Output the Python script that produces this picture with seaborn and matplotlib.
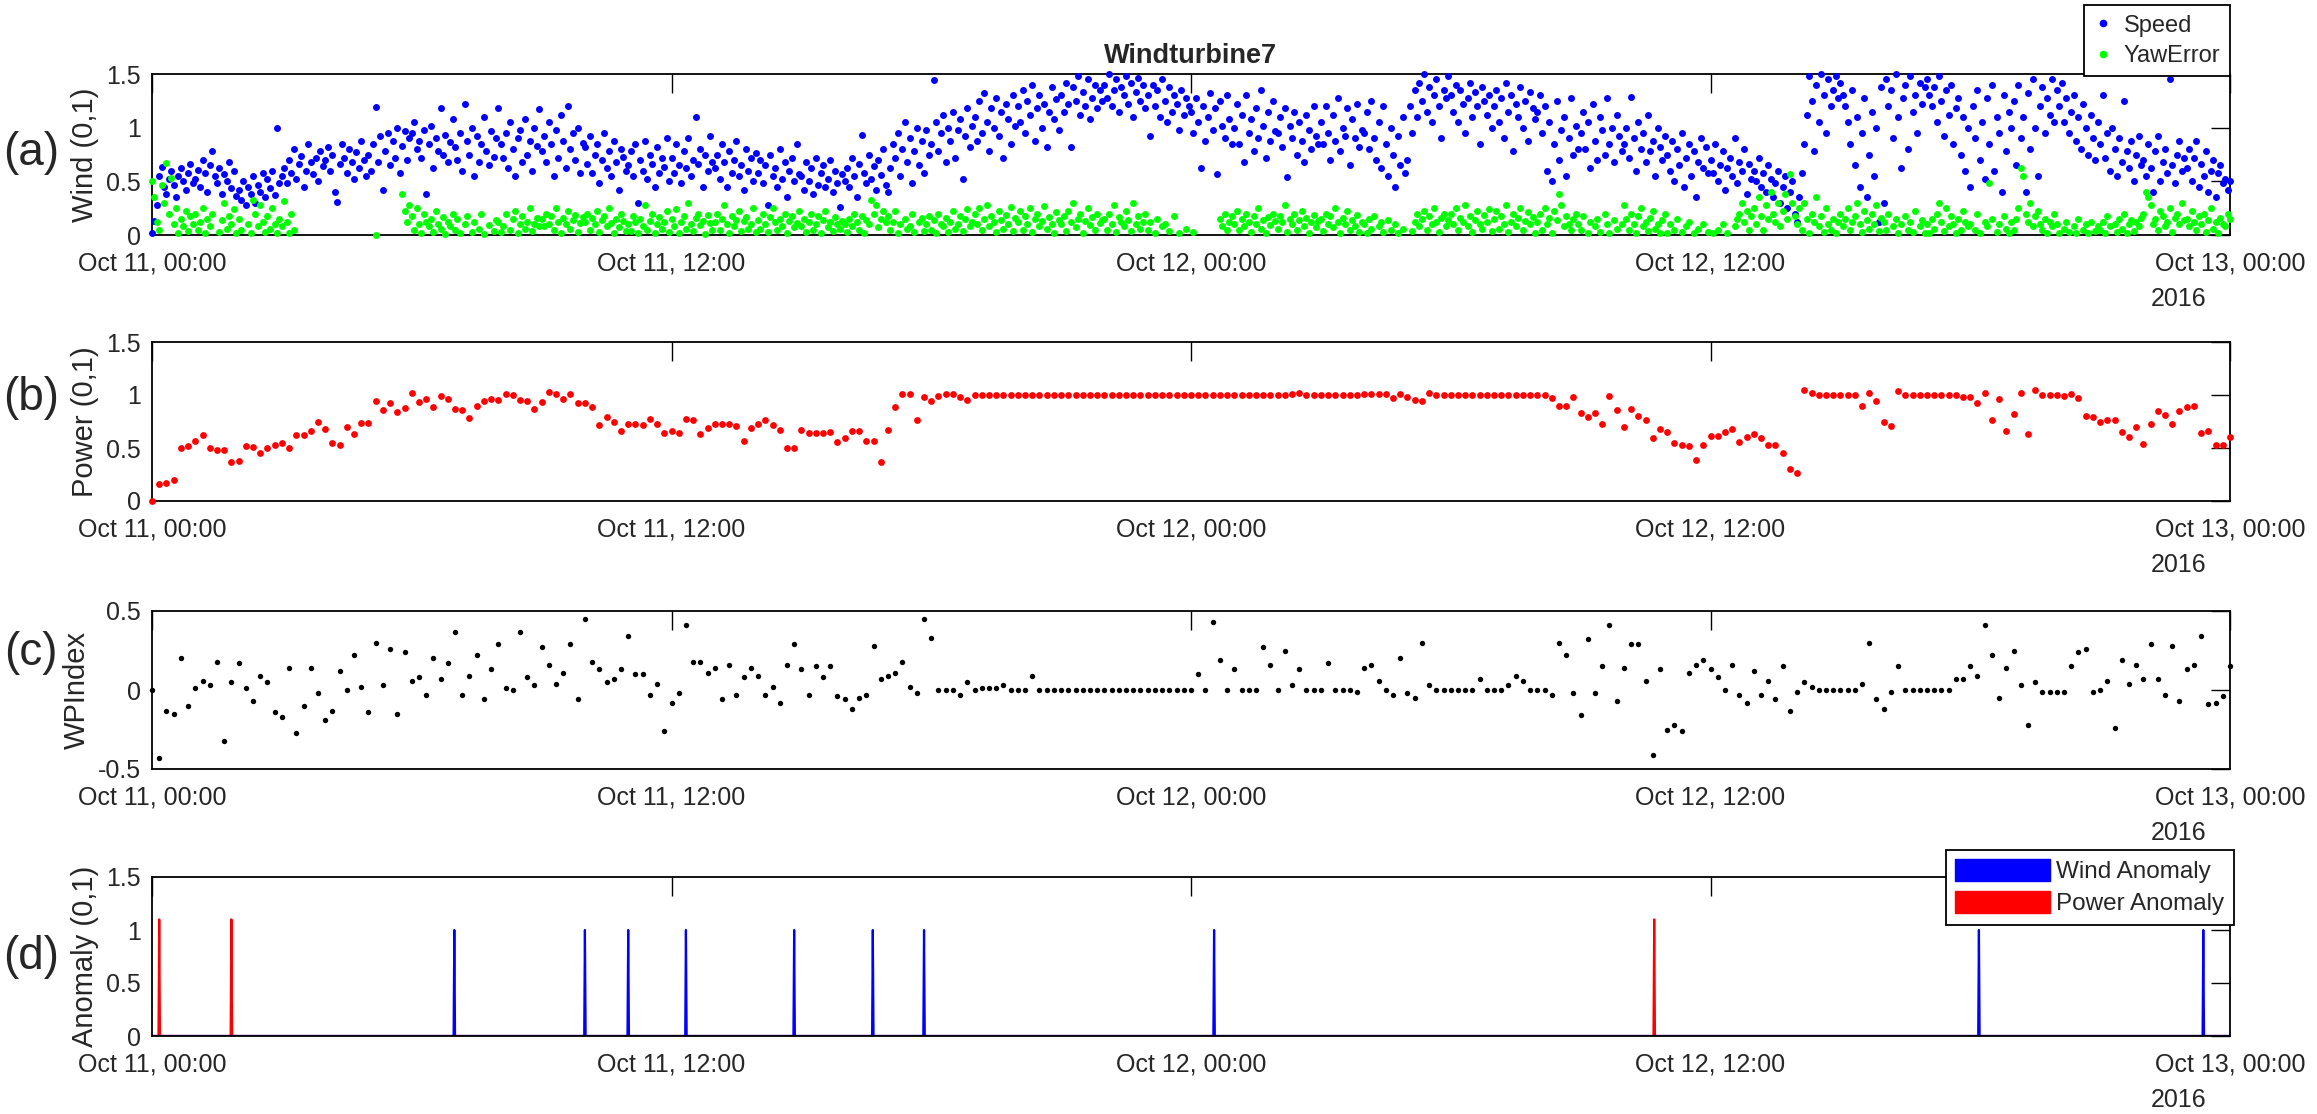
import numpy as np
import pandas as pd
import matplotlib
matplotlib.use("Agg")
import matplotlib.pyplot as plt
from matplotlib.patches import Patch
from matplotlib.lines import Line2D
import seaborn as sns

# wind speed (0,1), 18 readings per hour, one row per hour from Oct 11 00:00
speed = [
    .02, .13, .28, .55, .63, .45, .38, .52, .60, .47, .35, .55, .62, .50, .42, .58, .66, .48,
    .52, .61, .45, .70, .58, .40, .65, .78, .55, .48, .62, .38, .57, .50, .68, .44, .60, .36,
    .42, .33, .50, .28, .45, .38, .55, .30, .47, .40, .58, .35, .52, .44, .60, .37, 1.0, .48,
    .55, .62, .48, .70, .58, .80, .52, .66, .74, .45, .60, .85, .68, .57, .72, .50, .78, .64,
    .70, .82, .60, .75, .40, .31, .66, .85, .72, .58, .80, .68, .52, .77, .62, .88, .70, .55,
    .75, .60, .85, 1.19, .68, .92, .42, .78, .95, .65, .88, .72, 1.0, .58, .83, .97, .70, .90,
    .95, 1.05, .80, .88, .72, .98, .38, .85, 1.02, .62, .90, .78, 1.18, .75, .93, .68, .87, 1.08,
    .82, .70, .95, .60, 1.22, .88, .75, 1.0, .55, .92, .68, .85, 1.1, .78, .65, .97, .73, .90,
    1.18, .85, .72, .95, .62, 1.05, .80, .55, .90, .98, .68, 1.08, .75, .88, .60, 1.0, .83, 1.17,
    .78, .92, .68, 1.05, .85, .55, .98, .72, 1.12, .88, .62, 1.2, .80, .95, .70, 1.0, .58, .86,
    .82, .66, .92, .58, .75, .85, .48, .70, .95, .62, .78, .55, .88, .68, .42, .80, .73, .60,
    .65, .78, .55, .85, .30, .70, .60, .88, .52, .75, .66, .45, .82, .58, .72, .63, .90, .50,
    .72, .58, .85, .65, .48, .78, .62, .90, .55, .70, 1.1, .66, .80, .45, .75, .60, .92, .68,
    .62, .75, .52, .85, .68, .45, .78, .58, .70, .88, .55, .65, .42, .80, .60, .72, .50, .76,
    .58, .70, .48, .65, .28, .75, .55, .62, .45, .80, .52, .68, .35, .60, .72, .50, .85, .57,
    .55, .42, .68, .50, .62, .38, .72, .47, .58, .65, .45, .52, .70, .40, .60, .48, .26, .57,
    .50, .62, .45, .72, .55, .35, .66, .93, .58, .48, .75, .52, .64, .42, .70, .56, .80, .47,
    .40, .62, .85, .72, .95, .55, .80, 1.05, .68, .90, .48, .78, 1.0, .65, .88, .58, .98, .75,
    .85, 1.44, 1.05, .78, .95, 1.12, .68, 1.0, .88, 1.15, .72, .98, 1.08, .52, .92, 1.18, .82, 1.02,
    1.1, .88, 1.25, .95, 1.32, 1.05, .78, 1.18, 1.0, 1.28, .92, 1.15, .72, 1.22, 1.08, .85, 1.3, 1.02,
    1.2, 1.05, 1.35, .95, 1.25, 1.12, 1.4, .88, 1.18, 1.3, 1.0, 1.22, .82, 1.15, 1.38, 1.08, 1.27, .98,
    1.3, 1.15, 1.42, 1.22, .82, 1.38, 1.25, 1.48, 1.12, 1.33, 1.2, 1.45, 1.08, 1.28, 1.4, 1.18, 1.35, 1.25,
    1.4, 1.28, 1.5, 1.2, 1.35, 1.45, 1.15, 1.38, 1.3, 1.48, 1.22, 1.42, 1.1, 1.33, 1.46, 1.25, 1.4, 1.18,
    1.3, .92, 1.4, 1.2, 1.35, 1.1, 1.45, 1.25, 1.05, 1.38, 1.15, 1.3, 1.22, .98, 1.35, 1.12, 1.28, 1.2,
    1.15, .95, 1.28, 1.05, .62, 1.2, .88, 1.1, 1.32, .98, 1.18, .57, 1.25, 1.02, .9, 1.3, 1.08, .85,
    1.0, 1.22, .85, 1.12, .68, 1.3, .95, 1.08, .78, 1.18, .9, 1.35, 1.02, .72, 1.15, .88, 1.25, .97,
    .95, 1.1, .82, 1.18, .54, 1.02, .9, 1.15, .75, 1.05, .88, .68, 1.12, .98, .8, 1.2, .92, .85,
    1.05, .85, 1.2, .95, .7, 1.12, .88, 1.28, .78, 1.0, .92, 1.18, .65, 1.08, .9, 1.22, .82, .98,
    .95, 1.15, .8, 1.25, .9, .7, 1.05, .62, 1.2, .85, .55, 1.0, .75, .45, .92, .65, 1.1, .58,
    .7, 1.2, .95, 1.35, 1.1, 1.42, 1.25, 1.5, 1.15, 1.38, 1.05, 1.3, 1.45, 1.2, .9, 1.35, 1.28, 1.48,
    1.3, 1.15, 1.4, 1.05, 1.35, 1.22, .95, 1.28, 1.42, 1.1, 1.33, 1.2, .85, 1.38, 1.25, 1.12, 1.3, 1.0,
    1.2, 1.35, 1.05, 1.28, .9, 1.42, 1.15, 1.3, .78, 1.22, 1.1, 1.38, 1.0, 1.25, .88, 1.33, 1.18, 1.08,
    1.15, 1.3, .95, 1.2, .6, 1.05, .5, .85, 1.25, .7, .98, 1.1, .55, .9, 1.28, .75, 1.02, .8,
    .95, 1.15, .8, 1.05, .62, 1.22, .88, .7, 1.1, .98, .75, 1.28, .85, 1.0, .68, 1.12, .92, .78,
    .85, 1.0, .72, 1.29, .9, .6, 1.05, .8, .95, .68, 1.12, .78, .88, .55, 1.0, .82, .7, .92,
    .75, .6, .88, .5, .8, .65, .95, .45, .72, .85, .55, .78, .35, .68, .9, .62, .82, .58,
    .7, .58, .85, .5, .65, .78, .42, .62, .72, .55, .9, .48, .68, .6, .8, .38, .66, .52,
    .6, .5, .72, .45, .58, .4, .65, .52, .35, .48, .6, .3, .45, .55, .25, .4, .5, .2,
    .12, .35, .58, .85, 1.12, 1.48, 1.25, .78, 1.4, 1.05, 1.5, 1.3, .95, 1.45, 1.2, 1.35, 1.48, 1.28,
    1.42, 1.3, 1.2, 1.05, .85, 1.35, .65, 1.1, .45, .95, 1.28, .35, .75, 1.15, .55, 1.0, .12, 1.38,
    .3, 1.45, 1.2, 1.35, .9, 1.5, 1.1, .62, 1.28, 1.4, .8, 1.48, 1.15, 1.3, .95, 1.42, 1.22, 1.38,
    1.45, 1.3, 1.2, 1.38, 1.05, 1.48, 1.25, .92, 1.35, 1.12, 1.4, .85, 1.18, 1.28, .75, 1.1, .6, 1.0,
    .45, 1.2, .9, 1.35, .7, 1.05, .52, 1.28, .85, 1.4, .6, 1.1, .95, .4, 1.3, .78, 1.15, 1.0,
    1.25, .65, 1.4, .9, 1.1, .4, 1.32, .8, 1.45, 1.0, .55, 1.2, 1.38, .95, 1.28, 1.12, 1.45, 1.05,
    1.35, 1.2, 1.42, 1.05, 1.28, .95, 1.15, 1.3, .88, 1.1, .8, 1.22, 1.0, .75, 1.12, .9, .7, 1.05,
    .85, 1.3, .72, .95, .6, 1.0, .8, .55, .9, .68, 1.25, .78, .62, .88, .5, .75, .92, .65,
    .7, .55, .85, .62, .4, .78, .92, .5, .68, .8, .58, 1.45, .65, .48, .75, .88, .6, .72,
    .62, .8, .5, .72, .88, .45, .66, .55, .78, .4, .6, .7, .35, .58, .65, .48, .52, .42,
    .5,
]

# yaw error (0,1), same time grid as speed, None = no reading
yaw = [
    .5, .35, .12, .05, .47, .3, .67, .2, .53, .1, .25, .02, .15, .08, .22, .04, .18, .1,
    .2, .05, .12, .25, .02, .15, .08, .2, None, None, .03, .14, .3, .06, .18, .1, .24, .02,
    .15, .05, None, None, .1, .02, .33, .2, .08, .28, .12, .03, .18, .06, .25, .1, .02, .15,
    .08, .32, .12, .02, .2, .05, None, None, None, None, None, None, None, None, None, None, None, None,
    None, None, None, None, None, None, None, None, None, None, None, None, None, None, None, None, None, None,
    None, None, None, .0, None, None, None, None, None, None, None, None, None, None, .38, .22, .12, .28,
    .18, .05, .25, .1, .02, .2, .12, .08, .15, .03, .22, .1, .06, .17, .01, .12, .08, .2,
    .05, .15, .02, None, .1, .18, None, .03, .12, None, .06, .2, .01, None, .09, None, .04, .14,
    .12, .03, .08, .2, None, .05, .15, .22, .02, .1, .18, .06, .12, .25, .04, .1, .16, .08,
    .15, .08, .2, .1, .18, .05, .25, .12, .02, .16, .1, .22, .06, .14, .19, .03, .11, .17,
    .12, .2, .05, .16, .1, .22, .03, .14, .18, .08, .25, .11, .02, .15, .07, .2, .13, .04,
    .1, .04, .18, .12, .02, .15, .08, .28, .05, .13, .2, .02, .1, .17, .06, .12, .22, .03,
    .15, .08, .24, .02, .12, .18, .06, .3, .1, .04, .16, .2, .09, .13, .01, .19, .11, .05,
    .12, .2, .05, .15, .28, .1, .02, .18, .08, .14, .22, .04, .13, .17, .06, .1, .25, .03,
    .14, .06, .2, .1, .03, .17, .25, .12, .05, .15, .08, .2, .02, .13, .18, .07, .11, .22,
    .08, .15, .03, .12, .2, .05, .1, .18, .02, .14, .22, .07, .12, .04, .17, .1, .06, .13,
    .1, .03, .15, .08, .2, .12, .05, .18, .02, .14, .1, .33, .2, .28, .07, .15, .22, .12,
    .18, .05, .12, .22, .02, .1, None, .15, .06, .08, .2, .03, None, .12, .16, .04, .1, .18,
    .05, .14, .02, .2, .1, .08, .16, .03, .12, .22, .06, .1, .18, .04, .15, .24, .08, .12,
    .2, .1, .25, .05, .15, .28, .08, .18, .12, .03, .22, .14, .06, .19, .1, .26, .04, .16,
    .12, .22, .05, .18, .1, .25, .03, .15, .2, .08, .13, .27, .06, .17, .1, .02, .21, .14,
    .1, .18, .04, .22, .12, .3, .07, .15, .2, .02, .13, .25, .09, .17, .05, .2, .11, .14,
    .15, .05, .2, .1, .28, .03, .17, .12, .08, .22, .14, .04, .3, .1, .18, .06, .12, .2,
    .05, .12, None, .02, .15, None, .08, .1, None, .04, None, .18, None, .02, None, None, .06, None,
    None, .03, None, None, None, None, None, None, None, None, None, None, .15, .08, .2, .05, .12, .18,
    .1, .22, .05, .15, .08, .2, .12, .03, .18, .1, .25, .06, .14, .02, .17, .09, .2, .13,
    .06, .18, .12, .28, .03, .15, .1, .2, .05, .14, .22, .08, .16, .02, .12, .19, .07, .13,
    .15, .04, .2, .1, .18, .07, .25, .12, .02, .16, .1, .22, .05, .14, .08, .19, .03, .12,
    .1, .02, .15, .06, .18, None, .08, .12, .03, None, .14, .05, None, .1, .02, None, .06, None,
    None, None, .04, .12, .2, .08, .15, .22, .05, .18, .1, .25, .12, .03, .16, .2, .08, .14,
    .2, .1, .25, .05, .16, .12, .28, .08, .18, .03, .14, .22, .1, .06, .19, .12, .24, .04,
    .15, .22, .06, .18, .1, .28, .03, .12, .2, .08, .16, .25, .05, .13, .21, .1, .17, .02,
    .12, .2, .05, .25, .1, .16, .02, .22, .14, .38, .28, .08, .18, .1, .05, .15, .2, .1,
    .05, .18, None, .02, .12, None, .08, .15, .03, None, .2, .1, .02, None, .14, .06, None, .1,
    .28, .15, .05, .2, .1, .02, .18, .25, .08, .12, .04, .16, .22, .06, .1, .02, .14, .2,
    .02, .1, None, .05, .15, None, .03, None, .08, .12, None, .02, None, .06, None, .1, None, .03,
    None, .02, None, .05, None, .1, None, .02, None, None, .08, .15, .2, .3, .12, .22, .05, .18,
    .25, .1, .35, .18, .05, .28, .15, .4, .2, .12, .3, .08, .22, .38, .15, .57, .3, .18,
    .1, .25, .05, .3, .15, .02, .2, .12, .35, .08, .18, .03, .25, .1, .05, .15, .02, .12,
    .2, .08, .15, .25, .05, .12, .18, .3, .1, .03, .22, .14, .06, .2, .1, .28, .04, .16,
    .12, .05, .2, None, .08, .15, .02, .1, None, .18, .05, .12, .03, .22, None, .08, .14, .02,
    .1, .02, .15, .06, .2, .3, .12, .04, .25, .08, .18, .1, .02, .15, .05, .22, .12, .08,
    .1, None, .05, .2, .02, None, .12, .08, .48, .15, None, .03, .1, None, .18, .06, .02, .12,
    .05, .15, .25, .62, .55, .2, .12, .3, .08, .18, .22, .1, .05, .15, .02, .12, .08, .2,
    .1, .02, None, .06, .12, .03, None, .08, .02, .15, None, .05, .1, .02, .12, None, .04, .08,
    .05, .12, .02, .18, .08, None, .1, .03, .15, .06, .2, .02, .1, .14, .04, .12, .08, .16,
    .2, .4, .35, .28, .1, .15, .05, .22, .18, .08, .12, .25, .03, .16, .2, .1, .3, .14,
    .15, .08, .22, .12, .05, .18, .1, .2, .03, .14, .25, .06, .12, .02, .16, .1, .08, .2,
    .15,
]

# power (0,1), one reading every 10 minutes
power = [
    0, .16, .17, .20, .50, .52, .57, .62, .50, .48,
    .48, .37, .38, .52, .51, .45, .50, .53, .55, .50,
    .62, .62, .66, .75, .68, .55, .53, .70, .63, .74,
    .74, .94, .86, .92, .84, .88, 1.02, .93, .96, .89,
    .99, .96, .87, .86, .78, .90, .94, .96, .95, 1.01,
    1.00, .95, .94, .87, .93, 1.03, 1.01, .96, 1.01, .92,
    .92, .89, .72, .79, .75, .66, .73, .73, .72, .77,
    .73, .64, .66, .64, .77, .76, .63, .69, .73, .73,
    .73, .71, .57, .69, .73, .76, .72, .67, .50, .50,
    .67, .64, .64, .64, .65, .56, .59, .66, .66, .57,
    .57, .37, .67, .89, 1.01, 1.01, .76, .98, .94, .99,
    1.01, 1.01, .98, .95, 1.00,
    1, 1, 1, 1, 1, 1, 1, 1, 1, 1,
    1, 1, 1, 1, 1, 1, 1, 1, 1, 1,
    1, 1, 1, 1, 1, 1, 1, 1, 1, 1,
    1, 1, 1, 1, 1, 1, 1, 1, 1, 1,
    1, 1, 1, 1.01, 1.02, 1, 1, 1, 1, 1,
    1, 1, 1, 1.01, 1.01, 1.01, 1.01, .97, 1.01, .98,
    .95, .94, 1.02, 1, 1, 1, 1, 1, 1, 1,
    1, 1, 1, 1, 1, 1, 1, 1, 1, .97,
    .90, .90, .98, .83, .79, .83, .73, .99, .86, .70,
    .87, .80, .76, .59, .68, .65, .55, .53, .52, .39,
    .53, .61, .61, .65, .68, .56, .60, .63, .59, .53,
    .53, .45, .30, .26, 1.05, 1.02, 1.0, 1.0, 1.0, 1.0,
    1.0, 1.0, .90, 1.02, .94, .75, .71, 1.04, 1.0, 1.0,
    1.0, 1.0, 1.0, 1.0, 1.0, 1.0, .98, .98, .92, 1.02,
    .76, .96, .66, .82, 1.02, .63, 1.05, 1.0, 1.0, 1.0,
    .99, 1.01, .97, .80, .79, .75, .76, .76, .65, .60,
    .70, .54, .73, .85, .81, .73, .85, .89, .90, .64,
    .66, .53, .53, .60,
]

# wind-power index, one value every 10 minutes
wpindex = [
    0, -.43, -.13, -.15, .20, -.10, .01, .06, .03, .18,
    -.32, .05, .17, .01, -.07, .09, .05, -.14, -.17, .14,
    -.27, -.10, .14, -.02, -.19, -.13, .12, 0, .22, .02,
    -.14, .30, .03, .26, -.15, .24, .06, .08, -.03, .20,
    .07, .17, .37, -.03, .09, .22, -.06, .13, .29, .01,
    0, .37, .08, .03, .27, .16, .04, .11, .29, -.06,
    .45, .18, .13, .05, .07, .13, .34, .10, .10, -.03,
    .04, -.26, -.08, -.02, .41, .18, .18, .11, .14, -.06,
    .16, -.03, .08, .14, .09, -.03, .02, -.08,
    .16, .29, .13, -.03, .15, .08, .15, -.04, -.06, -.12,
    -.05, -.03, .28, .07, .09, .11, .18, .02, -.02, .45,
    .33, 0, 0, 0, -.03, .05, 0, .01, .01, .01,
    .03, 0, 0, 0, .09, 0, 0, 0, 0, 0,
    0, 0, 0, 0, 0, 0, 0, 0, 0, 0,
    0, 0, 0, 0, 0, 0, 0, .10, 0, .43,
    .19, 0, .13, 0, 0, 0, .27, .16, 0, .25,
    .03, .13, 0, 0, 0, .17, 0, 0, 0, -.01,
    .14, .16, .06, 0, -.03, .20, -.02, -.05, .30, .03,
    0, 0, 0, 0, 0, 0, .07, 0, 0, 0,
    .03, .09, .06, 0, 0, 0, -.03, .30, .22, -.02,
    -.16,
    .32, -.02, .15, .41, -.07, .14, .29, .29, .06, -.41,
    .13, -.25, -.22, -.26, .11, .16, .19, .13, .08, 0,
    .16, -.03, -.08, .12, -.03, .06, -.06, .15, -.13, -.01,
    .05, .02, 0, 0, 0, 0, 0, 0, .04, .30,
    -.06, -.12, -.01, .15, 0, 0, 0, 0, 0, 0,
    0, .07, .07, .15, .09, .41, .22, -.05, .14, .25,
    .03, -.22, .05, -.01, -.01, -.01, -.01, .15, .24, .26,
    -.01, 0, .06, -.24, .19, .04, .16, .07, .29, .07,
    -.03, .28, -.07, .13, .16, .34, -.09, -.08, -.04, .15,
]

# anomaly flags, minutes after Oct 11 00:00
wind_anomaly_min = [419, 600, 660, 740, 890, 999, 1070, 1472, 2532, 2843]
power_anomaly_min = [10, 110, 2082]
wind_anomaly_level = 1.0
power_anomaly_level = 1.1

tick_hours = [0, 12, 24, 36, 48]
tick_labels = ["Oct 11, 00:00", "Oct 11, 12:00", "Oct 12, 00:00", "Oct 12, 12:00", "Oct 13, 00:00"]

sns.set_style("white")
plt.rcParams['font.family'] = ['Liberation Sans', 'DejaVu Sans']

wind = pd.DataFrame({'hour': np.linspace(0, 48, len(speed)),
                     'Speed': speed,
                     'YawError': np.array(yaw, dtype=float)})
pw = pd.DataFrame({'hour': np.linspace(0, 48, len(power)), 'power': power, 'wpi': wpindex})

minutes = np.arange(48 * 60 + 1)
wind_flag = np.zeros(len(minutes))
wind_flag[wind_anomaly_min] = wind_anomaly_level
power_flag = np.zeros(len(minutes))
power_flag[power_anomaly_min] = power_anomaly_level

fig = plt.figure(figsize=(23.17, 11.14), dpi=100)
W, H = 2317, 1114
left, width = 152 / W, 2078 / W
rows = [(74, 235), (342, 501), (611, 769), (877, 1036)]
axes = [fig.add_axes([left, 1 - b / H, width, (b - t) / H]) for t, b in rows]
ax1, ax2, ax3, ax4 = axes

# (a) wind speed and yaw error
sns.scatterplot(data=wind, x='hour', y='Speed', color='#0000ff', s=25, linewidth=0,
                ax=ax1, clip_on=False, zorder=3)
sns.scatterplot(data=wind, x='hour', y='YawError', color='#00ff00', s=25, linewidth=0,
                ax=ax1, clip_on=False, zorder=4)
ax1.set_ylim(0, 1.5)
ax1.set_ylabel('Wind (0,1)')
ax1.set_title('Windturbine7', fontsize=19.5, fontweight='bold', pad=8)
h_a = [Line2D([], [], marker='o', ls='', color='#0000ff', markersize=4.5),
       Line2D([], [], marker='o', ls='', color='#00ff00', markersize=4.5)]
leg = ax1.legend(h_a, ['Speed', 'YawError'], loc='lower right', bbox_to_anchor=(1.0, 0.985),
                 fontsize=17, handlelength=0.8, handletextpad=0.5, borderpad=0.4,
                 labelspacing=0.35, borderaxespad=0, fancybox=False, framealpha=1,
                 edgecolor='black')
leg.get_frame().set_linewidth(1.3)

# (b) power
sns.scatterplot(data=pw, x='hour', y='power', color='#ff0000', s=24, linewidth=0,
                ax=ax2, clip_on=False, zorder=3)
ax2.set_ylim(0, 1.5)
ax2.set_ylabel('Power (0,1)')

# (c) WP index
sns.scatterplot(data=pw, x='hour', y='wpi', color='black', s=15, linewidth=0,
                ax=ax3, clip_on=False, zorder=3)
ax3.set_ylim(-0.5, 0.5)
ax3.set_yticks([-0.5, 0, 0.5])
ax3.set_ylabel('WPIndex')

# (d) anomalies
sns.lineplot(x=minutes / 60, y=power_flag, color='#ff0000', lw=1.6, ax=ax4, estimator=None)
sns.lineplot(x=minutes / 60, y=wind_flag, color='#0000ff', lw=1.6, ax=ax4, estimator=None)
ax4.set_ylim(0, 1.5)
ax4.set_ylabel('Anomaly (0,1)')
h_d = [Patch(facecolor='#0000ff', edgecolor='#0000ff'), Patch(facecolor='#ff0000', edgecolor='#ff0000')]
leg = ax4.legend(h_d, ['Wind Anomaly', 'Power Anomaly'], loc='lower right',
                 bbox_to_anchor=(1.002, 0.70), fontsize=17.5, handlelength=3.9,
                 handleheight=1.0, handletextpad=0.25, borderpad=0.4, labelspacing=0.3,
                 borderaxespad=0, fancybox=False, framealpha=1, edgecolor='black')
leg.get_frame().set_linewidth(1.3)

for ax in axes:
    ax.set_xlim(0, 48)
    ax.set_xticks(tick_hours)
    ax.set_xticklabels(tick_labels)
    ax.set_xlabel('')
    if ax is not ax3:
        ax.set_yticks([0, 0.5, 1, 1.5])
        ax.set_yticklabels(['0', '0.5', '1', '1.5'])
    else:
        ax.set_yticklabels(['-0.5', '0', '0.5'])
    ax.yaxis.label.set_size(21)
    ax.yaxis.labelpad = 5
    ax.tick_params(direction='in', length=14, width=1, top=True, right=True,
                   labelsize=18, color='black')
    ax.tick_params(axis='x', pad=12)
    ax.tick_params(axis='y', pad=8)
    for s in ax.spines.values():
        s.set_linewidth(1.3)
        s.set_color('black')
    ax.annotate('2016', xy=(1, 0), xycoords='axes fraction', xytext=(-37, -46),
                textcoords='offset points', ha='center', va='center', fontsize=18)

for y, lab in zip([153, 398, 653, 957], ['(a)', '(b)', '(c)', '(d)']):
    fig.text(31 / W, 1 - y / H, lab, fontsize=33, ha='center', va='center')

fig.savefig('out.png', dpi=100)
